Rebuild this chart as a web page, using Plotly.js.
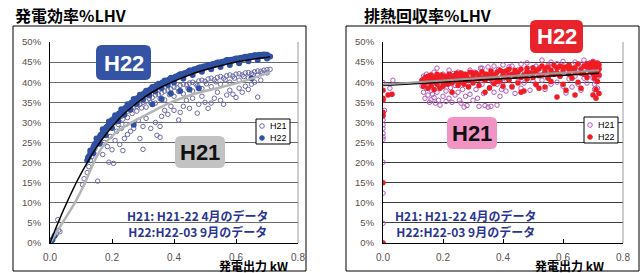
<!DOCTYPE html>
<html><head><meta charset="utf-8">
<script src="https://cdn.plot.ly/plotly-3.0.1.min.js"></script>
<style>html,body{margin:0;padding:0;background:#fff}#chart{width:642px;height:273px}</style>
</head><body><div id="chart"></div>
<script>
// ---------- DATA ----------
const titleLeft = "発電効率%LHV";
const titleRight = "排熱回収率%LHV";
const xTitle = "発電出力 kW";
const seriesNames = ["H21", "H22"];
const noteLines = ["H21: H21-22 4月のデータ", "H22:H22-03 9月のデータ"];
const xTicks = [0, 0.2, 0.4, 0.6, 0.8];
const xTickText = ["0.0", "0.2", "0.4", "0.6", "0.8"];
const yTicks = [0, 5, 10, 15, 20, 25, 30, 35, 40, 45, 50];
const yTickText = ["0%", "5%", "10%", "15%", "20%", "25%", "30%", "35%", "40%", "45%", "50%"];

// Left panel: power generation efficiency (kW, %)
const effH21 = [
 [0.005,0.5],[0.012,1.5],[0.02,2.2],[0.028,3.2],[0.025,5.8],[0.032,2.8],
 [0.105,14.5],[0.11,16],[0.12,17.5],[0.125,19],[0.13,20.5],[0.135,21.5],[0.14,22.5],[0.145,23.5],[0.15,24.5],[0.155,25.5],[0.16,26],[0.165,26.8],[0.17,27.5],[0.175,28],[0.18,28.8],[0.185,29.2],[0.19,29.8],[0.195,30.3],[0.2,30.8],
 [0.154,15.4],[0.19,20.1],[0.205,19.8],[0.2,23.2],[0.185,24],[0.21,25.5],[0.225,24.5],[0.24,26],[0.235,23],[0.25,27],[0.17,22],[0.175,25],[0.195,26.5],[0.215,27.8],[0.23,28.5],[0.245,29.5],[0.26,27.8],[0.27,28.5],[0.29,26],[0.3,23.3],[0.355,26.3],[0.345,26.8],[0.285,30.5],[0.3,29],[0.31,31],[0.325,28.5],[0.34,30],[0.355,29],[0.36,31.5],[0.37,33],[0.38,32],[0.39,34],[0.4,33],[0.415,30.6],[0.42,32.5],[0.43,34],[0.44,35.5],[0.45,33.5],[0.46,36],[0.475,32.3],[0.48,34.5],[0.49,36.5],[0.5,35],[0.51,33.5],[0.52,34.8],[0.53,36],[0.54,37.5],[0.55,35.5],[0.56,34.5],[0.57,36.8],[0.58,38],[0.59,37],[0.6,36.2],[0.61,38.5],[0.62,37.5],[0.63,39],[0.64,38.2],[0.65,39.5],[0.67,36.3],[0.66,40],[0.68,40.5],
 [0.21,30],[0.22,31],[0.23,31.5],[0.24,32.2],[0.25,32.8],[0.26,33],[0.27,33.8],[0.28,34],[0.29,34.5],[0.3,35],[0.31,35.3],[0.32,36],[0.33,36.2],[0.34,36.8],[0.35,37],[0.36,37.3],[0.37,37.8],[0.38,38],[0.39,38.3],[0.4,38.8],[0.41,38.6],[0.42,39.2],[0.43,39.5],[0.44,39.3],[0.45,39.8],[0.46,40],[0.47,39.6],[0.48,40.3],[0.49,40.5],[0.5,40.2],[0.51,40.8],[0.52,41],[0.53,40.6],[0.54,41.2],[0.55,41.4],[0.56,41],[0.57,41.6],[0.58,41.8],[0.59,41.5],[0.6,42],[0.61,42.1],[0.62,41.8],[0.63,42.3],[0.64,42.4],[0.65,42.2],[0.66,42.6],[0.67,42.8],[0.68,42.7],[0.69,43],[0.7,43.1],[0.71,43.2],
 [0.22,29.5],[0.25,31.2],[0.28,32.8],[0.31,33.8],[0.34,34.8],[0.37,35.6],[0.4,36.5],[0.43,37.1],[0.46,37.8],[0.49,38.4],[0.52,38.9],[0.55,39.5],[0.58,40],[0.61,40.5],[0.64,41.1],[0.67,41.7],[0.7,42.3],
 [0.235,30.8],[0.265,32.2],[0.295,33.6],[0.325,34.9],[0.355,35.9],[0.385,36.9],[0.415,37.7],[0.445,38.5],[0.475,39.1],[0.505,39.6],[0.535,40.1],[0.565,40.6],[0.595,41],[0.625,41.4],[0.655,41.9],[0.685,42.3]
];
const effH22 = [
 [0,0],[0.003,0.3],[0.008,0.8],[0.015,1.8],
 [0.12,20.5],[0.125,21.5],[0.13,22.3],[0.135,23],[0.14,23.8],[0.145,24.6],[0.15,25.2],[0.155,25.9],[0.16,26.3],[0.165,26.9],[0.17,27.5],[0.175,27.8],[0.18,28.5],[0.185,28.9],[0.19,29.4],[0.195,29.8],[0.2,30.3],[0.205,30.6],[0.21,31.1],[0.215,31.3],[0.22,31.8],[0.225,32.1],[0.23,32.6],[0.235,32.8],[0.24,33.3],[0.245,33.5],[0.25,33.9],[0.255,34.2],[0.26,34.6],[0.265,34.8],[0.27,35.2],[0.275,35.4],[0.28,35.8],[0.285,36],[0.29,36.3],[0.295,36.6],[0.3,36.9],[0.305,37.1],[0.31,37.4],[0.315,37.6],[0.32,37.9],[0.325,38.1],[0.33,38.3],[0.335,38.6],[0.34,38.8],[0.345,39],[0.35,39.2],[0.355,39.4],[0.36,39.6],[0.365,39.8],[0.37,40],[0.375,40.2],[0.38,40.3],[0.385,40.5],[0.39,40.7],[0.395,40.8],[0.4,41],[0.41,41.3],[0.42,41.6],[0.43,41.9],[0.44,42.2],[0.45,42.5],[0.46,42.7],[0.47,43],[0.48,43.2],[0.49,43.4],[0.5,43.7],[0.51,43.9],[0.52,44.1],[0.53,44.3],[0.54,44.5],[0.55,44.8],[0.56,44.9],[0.57,45.1],[0.58,45.3],[0.59,45.4],[0.6,45.6],[0.61,45.7],[0.62,45.9],[0.63,46],[0.64,46.1],[0.65,46.3],[0.66,46.4],[0.67,46.5],[0.68,46.6],[0.69,46.6],[0.7,46.5],[0.705,46.3],[0.71,46.4],
 [0.14,22.3],[0.16,24.7],[0.18,26.8],[0.2,28.6],[0.22,30.3],[0.24,31.9],[0.26,33.3],[0.28,34.6],[0.3,35.7],[0.32,36.7],[0.34,37.7],[0.36,38.5],[0.38,39.3],[0.4,39.9],[0.43,40.9],[0.46,41.8],[0.49,42.6],[0.52,43.2],[0.55,43.8],[0.58,44.3],[0.61,44.7],[0.64,45.2],[0.67,45.5],[0.7,45.9],
 [0.13,23],[0.15,26],[0.17,28.3],[0.19,30.2],[0.21,31.8],[0.23,33.3],[0.25,34.5],[0.27,35.8],[0.29,36.9],[0.31,37.9],[0.33,38.8],[0.35,39.6],[0.37,40.4],[0.39,41.1],[0.42,42],[0.45,42.9],[0.48,43.6],[0.51,44.3],[0.54,44.9],[0.57,45.5],[0.6,45.9],[0.63,46.3],[0.66,46.7],[0.69,46.9],[0.7,46.8],
 [0.1225,21.2],[0.1325,22.8],[0.1425,24.3],[0.1525,25.6],[0.1625,26.8],[0.1725,27.8],[0.1825,28.8],[0.1925,29.8],[0.2025,30.6],[0.2125,31.4],[0.2225,32.2],[0.2325,32.9],[0.2425,33.6],[0.2525,34.2],[0.2625,34.9],[0.2725,35.5],[0.2825,36.1],[0.2925,36.6],[0.3025,37.2],[0.3125,37.7],[0.3225,38.2],[0.3325,38.7],[0.3425,39.1],[0.3525,39.5],[0.3625,39.9],[0.3725,40.3],[0.3825,40.6],[0.3925,41],[0.405,41.4],[0.415,41.7],[0.425,42],[0.435,42.3],[0.445,42.6],[0.455,42.9],[0.465,43.2],[0.475,43.4],[0.485,43.7],[0.495,43.9],[0.505,44.1],[0.515,44.3],[0.525,44.5],[0.535,44.7],[0.545,44.9],[0.555,45.1],[0.565,45.3],[0.575,45.5],[0.585,45.6],[0.595,45.8],[0.605,45.9],[0.615,46.1],[0.625,46.2],[0.635,46.3],[0.645,46.5],[0.655,46.6],[0.665,46.7],[0.675,46.8],[0.685,46.8],[0.695,46.8],
 [0.27,29.4],[0.39,37.2],[0.42,37.8],[0.45,38.2],[0.48,38.5],[0.65,41],[0.33,34.5],[0.36,35.8]
];
const effFitH22X = [0,0.03,0.06,0.09,0.12,0.15,0.18,0.21,0.24,0.27,0.3,0.33,0.36,0.39,0.42,0.45,0.48,0.51,0.54,0.57,0.6,0.63,0.66,0.69,0.71];
const effFitH22Y = [0,5.8,11,15.8,20,23.8,27,29.8,32.2,34.2,36,37.5,38.8,39.9,40.9,41.8,42.6,43.3,43.9,44.5,45,45.4,45.8,46.1,46.3];
const effFitH21X = [0,0.04,0.08,0.11,0.14,0.16,0.18,0.2,0.22,0.25,0.28,0.31,0.345,0.39,0.45,0.5,0.55,0.6,0.65,0.71];
const effFitH21Y = [0,5,10,14.5,19.8,22.8,25,26.6,27.9,29.4,30.7,31.9,33.3,35,36.7,37.8,38.7,39.7,40.9,42.5];

// Right panel: heat recovery efficiency (kW, %)
const heatH21 = [
 [0,0],[0,4.9],[0,12.4],[0,20.1],[0,25.8],[0,26.4],[0,27.3],[0,28.5],[0,29.4],[0,30.6],[0,31.5],[0,39.9],
 [0.023,38.5],[0.033,40.5],[0.005,33],
 [0.13,40.5],[0.13,39],[0.135,41.5],[0.135,37.5],[0.14,36],[0.14,40],[0.145,38.5],[0.145,42],[0.15,36.8],[0.15,39.5],[0.155,41],[0.155,35],[0.16,35.6],[0.16,38],[0.165,40.5],[0.165,37],[0.17,42.5],[0.17,36.2],[0.175,39],[0.175,34.8],[0.18,43.5],[0.18,37.5],[0.185,40],[0.185,35.5],[0.19,34.3],[0.19,38.8],[0.195,41.5],[0.2,36.5],[0.2,42],[0.205,39.5],[0.21,35.2],[0.21,37.8],[0.215,41],[0.22,43],[0.22,36],[0.225,38.6],[0.23,40.5],[0.23,35],[0.235,42.2],[0.24,36.8],[0.24,39.2],[0.245,41.8],[0.25,42.5],[0.25,37.5],[0.255,35.5],[0.26,34.8],[0.26,40.2],[0.265,38.2],[0.27,33.8],[0.27,42],[0.275,36.5],[0.28,41],[0.28,34.2],[0.285,39],[0.29,43],[0.29,37],[0.3,40.5],[0.3,35.5],[0.305,42.5],[0.31,38.2],
 [0.315,36],[0.32,41.5],[0.32,34],[0.325,43.5],[0.33,39.5],[0.33,43.5],[0.335,37.2],[0.34,34.2],[0.34,42],[0.345,40.8],[0.35,33.8],[0.35,43.8],[0.355,38.5],[0.36,42.5],[0.36,34],[0.365,40],[0.37,37.5],[0.37,44],[0.375,41.8],[0.38,34.3],[0.38,39.5],[0.385,43.2],[0.39,36.5],[0.39,41],[0.395,38.2],[0.4,44.3],[0.4,40],[0.41,42.5],[0.41,37.8],[0.42,43.8],[0.42,40.8],[0.43,39],[0.43,44],[0.44,41.5],[0.44,37.2],[0.45,43],[0.45,40.2],[0.46,44.5],[0.46,38.5],[0.47,42],[0.47,39.8],[0.48,44.8],[0.48,41],[0.49,43.2],[0.49,38],[0.5,42.5],[0.5,40.3],
 [0.51,39.3],[0.51,44],[0.52,41.8],[0.52,43.5],[0.53,45.5],[0.53,40.5],[0.54,42.8],[0.54,38.2],[0.55,44.2],[0.55,41.2],[0.56,45],[0.56,39.5],[0.57,43],[0.57,42],[0.58,44.6],[0.58,40],[0.59,41.5],[0.59,43.8],[0.6,45.2],[0.6,39],[0.61,37.3],[0.61,42.5],[0.62,44],[0.62,40.8],[0.63,43.2],[0.63,38.8],[0.64,45],[0.64,41.5],[0.65,42.8],[0.65,39.5],[0.66,38],[0.66,44.5],[0.67,45.5],[0.67,41],[0.68,43.5],[0.68,39.8],[0.69,44.8],[0.69,42],[0.7,45.2],[0.7,43],[0.7,41],[0.705,39.5],[0.705,38.2],[0.71,37.3],[0.71,40.2],[0.71,42.5],[0.715,44],[0.715,38.5],[0.72,41.5],[0.72,43.5]
];
const heatH22 = [
 [0,0],[0,15],[0,31.8],[0,32.5],[0,35.5],[0,36],[0,38],[0.017,36.8],[0.03,37],
 [0.13,40.5],[0.135,39],[0.14,41.2],[0.145,40],[0.15,38.5],[0.15,41.5],[0.155,40.3],[0.16,39.2],[0.16,41.8],[0.165,40.8],[0.17,38.2],[0.17,41.2],[0.175,40],[0.18,42],[0.18,39.5],[0.185,41],[0.19,38.5],[0.19,40.5],[0.195,41.8],[0.2,40],[0.2,39],[0.205,41.5],[0.21,40.7],[0.215,39.5],[0.22,42],[0.22,40.2],[0.225,41],[0.23,37.5],[0.23,39.8],[0.235,41.6],[0.24,40.5],[0.245,42.2],[0.25,39.2],[0.25,41],[0.255,40],[0.26,42.3],[0.265,41],[0.27,39.5],[0.27,40.8],[0.275,42],[0.28,41.3],[0.285,38.8],[0.29,42.5],[0.29,40.6],[0.3,41.5],[0.3,39.8],[0.31,42.3],[0.31,40.8],[0.32,41.8],[0.32,39.2],[0.33,42.6],[0.33,41],[0.34,37.5],[0.34,40.5],[0.345,42],[0.35,41.5],[0.355,38.6],[0.36,42.8],[0.36,40.8],[0.37,41.8],[0.37,39.6],[0.38,42.5],[0.38,41],[0.39,43],[0.39,40.3],[0.4,41.8],[0.4,39],[0.41,42.8],[0.41,41.2],[0.42,43.2],[0.42,40.5],[0.43,42],[0.43,38.8],[0.44,43],[0.44,41.5],[0.45,42.5],[0.45,39.8],[0.46,37.5],[0.46,43.2],[0.47,41.8],[0.47,37.8],[0.48,43.5],[0.48,40.8],[0.49,42.3],[0.5,43.6],[0.5,41.2],[0.51,39.5],[0.51,42.8],[0.52,38.5],[0.52,43.3],[0.53,41.8],[0.53,44],[0.54,42.5],[0.54,38.8],[0.55,43.8],[0.55,41],[0.56,40.2],[0.56,43],[0.57,44.2],[0.57,42],[0.58,36.3],[0.58,43.5],[0.59,41.5],[0.59,44],[0.6,42.8],[0.6,39.5],[0.61,38],[0.61,43.8],[0.62,42],[0.62,44.3],[0.63,41],[0.63,43.5],[0.64,36.8],[0.64,42.5],[0.65,44.5],[0.65,40],[0.66,43.2],[0.66,38.5],[0.67,44],[0.67,42],[0.68,43.8],[0.68,41.2],[0.69,44.6],[0.69,42.8],[0.695,43.8],[0.7,45],[0.7,42.2],[0.7,36.8],[0.705,41],[0.705,44.2],[0.71,36],[0.71,43.5],[0.71,38.2],[0.715,42.5],[0.715,44.8],[0.72,43.2],[0.72,41.8],[0.72,37.2],
 [0.14,40.3],[0.16,40.6],[0.18,40.9],[0.2,41],[0.22,41.2],[0.24,41.5],[0.26,41.3],[0.28,40.5],[0.3,42.2],[0.32,40.8],[0.34,41.8],[0.36,41.6],[0.38,40.2],[0.4,42.6],[0.42,41.8],[0.44,42.2],[0.46,41.2],[0.48,42.6],[0.5,42.2],[0.52,41.6],[0.54,43.4],[0.56,42.2],[0.58,42.3],[0.6,43.8],[0.62,43.2],[0.64,43.6],[0.66,42.2],[0.68,44.6],[0.7,43.8],[0.71,42],[0.72,44.3],[0.715,40.2]
];
const heatFitH22X = [0, 0.72];
const heatFitH22Y = [39.2, 42.2];
const heatFitH21X = [0, 0.72];
const heatFitH21Y = [39.4, 43.0];

// ---------- DRAW ----------
const W = 642, H = 273;
const PX = p => p / W, PY = p => 1 - p / H;
const xs = a => a.map(d => d[0]), ys = a => a.map(d => d[1]);

const traces = [
 {x: xs(effH21), y: ys(effH21), xaxis:'x', yaxis:'y', mode:'markers', name:seriesNames[0],
  marker:{symbol:'circle-open', size:4.5, color:'#6b6aa6', line:{width:1}}},
 {x: xs(effH22), y: ys(effH22), xaxis:'x', yaxis:'y', mode:'markers', name:seriesNames[1],
  marker:{symbol:'circle', size:6, color:'#3050a2'}},
 {x: effFitH21X, y: effFitH21Y, xaxis:'x', yaxis:'y', mode:'lines', line:{color:'#b4b4b4', width:2.5, shape:'spline'}},
 {x: effFitH22X, y: effFitH22Y, xaxis:'x', yaxis:'y', mode:'lines', line:{color:'#000', width:1.5, shape:'spline'}},
 {x: xs(heatH21), y: ys(heatH21), xaxis:'x2', yaxis:'y2', mode:'markers', name:seriesNames[0],
  marker:{symbol:'circle-open', size:4.5, color:'#b057b8', line:{width:1}}},
 {x: xs(heatH22), y: ys(heatH22), xaxis:'x2', yaxis:'y2', mode:'markers', name:seriesNames[1],
  marker:{symbol:'circle', size:5.5, color:'#f01c24'}},
 {x: heatFitH22X, y: heatFitH22Y, xaxis:'x2', yaxis:'y2', mode:'lines', line:{color:'#000', width:1.5}},
 {x: heatFitH21X, y: heatFitH21Y, xaxis:'x2', yaxis:'y2', mode:'lines', line:{color:'#999', width:2}}
];

const tickFont = {family:'Liberation Sans, Arial, sans-serif', size:9.5, color:'#5a4f4a'};
function xAx(domain){ return {domain, range:[0,0.8], tickvals:xTicks, ticktext:xTickText, showgrid:false, zeroline:false,
  showline:true, linecolor:'#000', linewidth:1, ticks:'inside', ticklen:4, tickcolor:'#000', tickfont:{...tickFont, size:10}, ticklabelstandoff:5, fixedrange:true}; }
function yAx(domain, gc){ return {domain, range:[0,50], tickvals:yTicks, ticktext:yTickText, showgrid:true, gridcolor:gc, gridwidth:1, zeroline:false,
  showline:true, linecolor:'#000', linewidth:1, ticks:'', tickfont:tickFont, ticklabelstandoff:6, fixedrange:true}; }

const yDom = [PY(243), PY(42)];
function rr(x0,y0,x1,y1,r){
  const X=PX, Y=PY;
  return `M${X(x0+r)},${Y(y0)} L${X(x1-r)},${Y(y0)} Q${X(x1)},${Y(y0)} ${X(x1)},${Y(y0+r)} L${X(x1)},${Y(y1-r)} Q${X(x1)},${Y(y1)} ${X(x1-r)},${Y(y1)} L${X(x0+r)},${Y(y1)} Q${X(x0)},${Y(y1)} ${X(x0)},${Y(y1-r)} L${X(x0)},${Y(y0+r)} Q${X(x0)},${Y(y0)} ${X(x0+r)},${Y(y0)} Z`;
}
const shapes = [
  {type:'rect', xref:'paper', yref:'paper', x0:PX(13), x1:PX(306), y0:PY(271), y1:PY(26), line:{color:'#000', width:1}, layer:'below'},
  {type:'rect', xref:'paper', yref:'paper', x0:PX(346), x1:PX(639), y0:PY(271), y1:PY(26), line:{color:'#000', width:1}, layer:'below'},
  {type:'line', xref:'x domain', yref:'y domain', x0:1, x1:1, y0:0, y1:1, line:{color:'#9a9a9a', width:1}},
  {type:'line', xref:'x2 domain', yref:'y2 domain', x0:1, x1:1, y0:0, y1:1, line:{color:'#9a9a9a', width:1}},
  {type:'path', xref:'paper', yref:'paper', path:rr(96,45,151,80,6), fillcolor:'#3553a4', line:{width:0}},
  {type:'path', xref:'paper', yref:'paper', path:rr(175,136,225,168,6), fillcolor:'#c2c2c2', line:{width:0}},
  {type:'path', xref:'paper', yref:'paper', path:rr(530,20,583,53,6), fillcolor:'#e8232b', line:{width:0}},
  {type:'path', xref:'paper', yref:'paper', path:rr(447,117,497,149,6), fillcolor:'#f194c4', line:{width:0}},
  {type:'rect', xref:'paper', yref:'paper', x0:PX(256), x1:PX(290), y0:PY(144), y1:PY(119), fillcolor:'#fff', line:{color:'#000', width:1}},
  {type:'rect', xref:'paper', yref:'paper', x0:PX(584), x1:PX(618), y0:PY(143), y1:PY(117), fillcolor:'#fff', line:{color:'#000', width:1}}
];
function legMark(cx, cy, color, filled){
  return {type:'circle', xref:'paper', yref:'paper', xsizemode:'pixel', ysizemode:'pixel', xanchor:PX(cx), yanchor:PY(cy),
    x0:-2.3, x1:2.3, y0:-2.3, y1:2.3, fillcolor: filled ? color : 'rgba(0,0,0,0)', line:{color, width:1}};
}
shapes.push(legMark(262,126,'#6b6aa6',false), legMark(262,138,'#3050a2',true),
            legMark(590,125,'#b057b8',false), legMark(590,137,'#f01c24',true));

const cjk = 'Noto Sans CJK JP, sans-serif';
const boxFont = (c) => ({family:'Liberation Sans, Arial, sans-serif', size:22, color:c, weight:'bold'});
const noteFont = {family:cjk, size:12, color:'#2b3590', weight:'bold'};
const legFont = {family:'Liberation Sans, Arial, sans-serif', size:9, color:'#000'};
function ann(text, x, y, font, xa){ return {text, xref:'paper', yref:'paper', x:PX(x), y:PY(y), xanchor:xa||'center', yanchor:'middle', showarrow:false, font}; }
const annotations = [
  ann(titleLeft, 13, 15, {family:cjk, size:16, color:'#000', weight:'bold'}, 'left'),
  ann(titleRight, 362, 15, {family:cjk, size:16, color:'#000', weight:'bold'}, 'left'),
  ann(xTitle, 217, 265, {family:cjk, size:12, color:'#000', weight:'bold'}, 'left'),
  ann(xTitle, 533, 265, {family:cjk, size:12, color:'#000', weight:'bold'}, 'left'),
  ann('<b>H22</b>', 123.5, 63, boxFont('#fff')),
  ann('<b>H21</b>', 200, 152.5, boxFont('#111')),
  ann('<b>H22</b>', 556.5, 37, boxFont('#fff')),
  ann('<b>H21</b>', 472, 133.5, boxFont('#111')),
  ann(noteLines.join('<br>'), 197.5, 223.5, noteFont),
  ann(noteLines.join('<br>'), 466, 223.5, noteFont),
  ann(seriesNames[0], 268, 126, legFont, 'left'),
  ann(seriesNames[1], 268, 138, legFont, 'left'),
  ann(seriesNames[0], 596, 125, legFont, 'left'),
  ann(seriesNames[1], 596, 137, legFont, 'left')
];

const layout = {
  width:W, height:H, autosize:false, margin:{l:0,r:0,t:0,b:0}, paper_bgcolor:'#fff', plot_bgcolor:'#fff',
  showlegend:false,
  xaxis: {...xAx([PX(50), PX(298)]), anchor:'y'}, yaxis: {...yAx(yDom, '#6a6a6a'), anchor:'x'},
  xaxis2: {...xAx([PX(383), PX(623)]), anchor:'y2'}, yaxis2: {...yAx(yDom, '#3c3c3c'), anchor:'x2'},
  shapes, annotations
};
Plotly.newPlot('chart', traces, layout, {staticPlot:true, displayModeBar:false});
</script></body></html>
